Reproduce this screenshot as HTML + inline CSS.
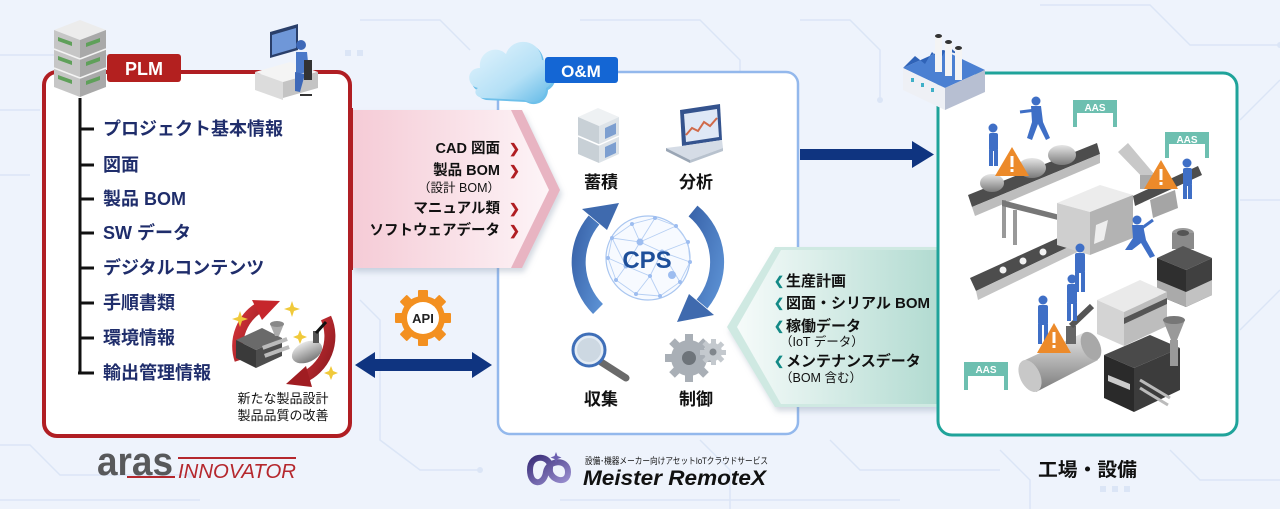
<!DOCTYPE html>
<html><head><meta charset="utf-8">
<style>
html,body{margin:0;padding:0;background:#eef3fc;}
svg{display:block;}
text{font-family:"Liberation Sans","Noto Sans CJK JP",sans-serif;}
</style></head>
<body>
<svg width="1280" height="512" viewBox="0 0 1280 512" xmlns="http://www.w3.org/2000/svg">
<defs>
<linearGradient id="pinkG" x1="0" x2="1" y1="0" y2="0"><stop offset="0" stop-color="#f5cbd6"/><stop offset="1" stop-color="#fdf4f7"/></linearGradient>
<linearGradient id="greenG" x1="0" x2="1" y1="0" y2="0"><stop offset="0" stop-color="#f6fbfa"/><stop offset="1" stop-color="#b2dbd1"/></linearGradient>
<linearGradient id="arcG" x1="0" x2="1" y1="0" y2="1"><stop offset="0" stop-color="#3b66ac"/><stop offset="1" stop-color="#5a8fd2"/></linearGradient>
<linearGradient id="cloudG" x1="0" x2="1" y1="0" y2="1"><stop offset="0" stop-color="#e6f5fd"/><stop offset="0.6" stop-color="#b4e0f6"/><stop offset="1" stop-color="#5db7e6"/></linearGradient>
<linearGradient id="tankG" x1="0" x2="0" y1="0" y2="1"><stop offset="0" stop-color="#e6e6e6"/><stop offset="0.5" stop-color="#b0b0b0"/><stop offset="1" stop-color="#7a7a7a"/></linearGradient>
<linearGradient id="redG" x1="0" x2="1" y1="0" y2="1"><stop offset="0" stop-color="#d8343a"/><stop offset="1" stop-color="#8c1a1f"/></linearGradient>
<linearGradient id="meiG" x1="0" x2="1" y1="0" y2="1"><stop offset="0" stop-color="#3b2f7a"/><stop offset="1" stop-color="#9a8fd0"/></linearGradient>
<filter id="sh" x="-10%" y="-10%" width="130%" height="140%"><feDropShadow dx="2" dy="4" stdDeviation="3" flood-color="#8090a8" flood-opacity="0.35"/></filter>
</defs>

<!-- background -->
<rect width="1280" height="512" fill="#eef3fc"/>
<g stroke="#dbe5f6" stroke-width="1.5" fill="none">
<polyline points="0,55 150,55 185,90 340,90"/>
<polyline points="0,110 40,110"/>
<polyline points="0,175 30,175"/>
<polyline points="0,445 30,445 60,475 190,475"/>
<polyline points="0,500 200,500"/>
<polyline points="360,20 440,20 470,50"/>
<polyline points="360,300 380,320 380,440 420,470 480,470"/>
<polyline points="580,20 700,20 740,60 740,80"/>
<polyline points="800,20 850,20 880,50 880,100"/>
<polyline points="830,440 860,470 1000,470"/>
<polyline points="560,500 900,500"/>
<polyline points="1040,5 1150,5 1190,45 1280,45"/>
<polyline points="1240,120 1280,80"/>
<polyline points="1240,200 1280,200"/>
<polyline points="1240,330 1280,290"/>
<polyline points="1170,450 1200,480 1280,480"/>
<polyline points="700,440 730,470 730,512"/>
<polyline points="1000,450 1030,480 1030,512"/>
</g>
<g fill="#dbe5f6">
<circle cx="340" cy="90" r="3"/><circle cx="480" cy="470" r="3"/><circle cx="190" cy="475" r="3"/>
<circle cx="1280" cy="45" r="3"/><circle cx="880" cy="100" r="3"/><circle cx="740" cy="80" r="3"/>
<rect x="1100" y="486" width="6" height="6"/><rect x="1112" y="486" width="6" height="6"/><rect x="1124" y="486" width="6" height="6"/>
<rect x="345" y="50" width="6" height="6"/><rect x="357" y="50" width="6" height="6"/>
</g>
<rect x="0" y="509" width="1280" height="3" fill="#ffffff"/>

<!-- ================= PLM BOX ================= -->
<rect x="44" y="72" width="306" height="364" rx="13" fill="#ffffff" stroke="#b01e23" stroke-width="4"/>
<rect x="107" y="54" width="74" height="28" rx="3" fill="#b3201f"/>
<text x="144" y="75" font-size="18" font-weight="bold" fill="#fff" text-anchor="middle">PLM</text>

<!-- server stack -->
<g>
<polygon points="54,30 80,20 106,30 80,40" fill="#ececec"/>
<polygon points="54,30 80,40 80,97 54,87" fill="#c6c6c6"/>
<polygon points="80,40 106,30 106,87 80,97" fill="#a9a9a9"/>
<line x1="54" y1="49" x2="80" y2="59" stroke="#f4f4f4" stroke-width="1.5"/>
<line x1="80" y1="59" x2="106" y2="49" stroke="#f4f4f4" stroke-width="1.5"/>
<line x1="54" y1="68" x2="80" y2="78" stroke="#f4f4f4" stroke-width="1.5"/>
<line x1="80" y1="78" x2="106" y2="68" stroke="#f4f4f4" stroke-width="1.5"/>
<polygon points="58,37 72,42 72,46 58,41" fill="#5fa05a"/>
<polygon points="86,43 100,38 100,42 86,47" fill="#5fa05a"/>
<polygon points="58,56 72,61 72,65 58,60" fill="#5fa05a"/>
<polygon points="86,62 100,57 100,61 86,66" fill="#5fa05a"/>
<polygon points="58,75 72,80 72,84 58,79" fill="#5fa05a"/>
<polygon points="86,81 100,76 100,80 86,85" fill="#5fa05a"/>
</g>
<!-- person at desk -->
<g>
<polygon points="270,32 298,24 298,50 270,58" fill="#2a3f6a"/>
<polygon points="272,35 296,28 296,48 272,55" fill="#6f97d8"/>
<polygon points="255,72 290,62 318,72 283,82" fill="#f4f4f4"/>
<polygon points="255,72 283,82 283,100 255,90" fill="#dcdcdc"/>
<polygon points="283,82 318,72 318,88 283,98" fill="#c4c4c4"/>
<circle cx="301" cy="45" r="5" fill="#3d68b8"/>
<path d="M296 52 L307 52 L309 72 L296 74 Z" fill="#4a78c8"/>
<path d="M295 72 L305 74 L300 92 L295 91 Z" fill="#3d68b8"/>
<rect x="304" y="60" width="8" height="20" fill="#333"/>
<line x1="300" y1="95" x2="312" y2="95" stroke="#333" stroke-width="2"/>
</g>

<!-- list -->
<g stroke="#111" stroke-width="3" fill="none">
<line x1="80" y1="98" x2="80" y2="374"/>
<line x1="80" y1="129" x2="94" y2="129"/>
<line x1="80" y1="165" x2="94" y2="165"/>
<line x1="80" y1="199" x2="94" y2="199"/>
<line x1="80" y1="233" x2="94" y2="233"/>
<line x1="80" y1="268" x2="94" y2="268"/>
<line x1="80" y1="303" x2="94" y2="303"/>
<line x1="80" y1="338" x2="94" y2="338"/>
<line x1="78" y1="373" x2="94" y2="373"/>
</g>
<g font-size="18" font-weight="bold" fill="#1f2d6b">
<text x="103" y="135">プロジェクト基本情報</text>
<text x="103" y="171">図面</text>
<text x="103" y="205">製品 BOM</text>
<text x="103" y="239">SW データ</text>
<text x="103" y="274">デジタルコンテンツ</text>
<text x="103" y="309">手順書類</text>
<text x="103" y="344">環境情報</text>
<text x="103" y="379">輸出管理情報</text>
</g>

<!-- improvement icon -->
<g>
<path d="M240 360 A45 45 0 0 1 262 306" stroke="url(#redG)" stroke-width="11" fill="none"/>
<polygon points="252,300 280,301 262,320" fill="#c6262c"/>
<path d="M326 318 A45 45 0 0 1 302 378" stroke="url(#redG)" stroke-width="11" fill="none"/>
<polygon points="312,387 286,384 306,366" fill="#a01d22"/>
<polygon points="236,340 262,328 282,338 256,350" fill="#6a6a6a"/>
<polygon points="236,340 256,350 256,368 236,358" fill="#3a3a3a"/>
<polygon points="256,350 282,338 282,356 256,368" fill="#4e4e4e"/>
<rect x="262" y="346" width="26" height="4" fill="#bbb" transform="rotate(-20 262 346)"/>
<rect x="264" y="354" width="26" height="4" fill="#bbb" transform="rotate(-20 264 354)"/>
<polygon points="270,324 284,324 279,336 275,336" fill="#aaa"/>
<ellipse cx="277" cy="324" rx="7" ry="3" fill="#888"/>
<ellipse cx="307" cy="352" rx="16" ry="10" fill="url(#tankG)" transform="rotate(-25 307 352)"/>
<rect x="313" y="331" width="6" height="12" fill="#555"/>
<line x1="316" y1="333" x2="326" y2="322" stroke="#111" stroke-width="3"/>
<g fill="#f0c93a">
<path d="M240 311 l2 6 6 2 -6 2 -2 6 -2 -6 -6 -2 6 -2z"/>
<path d="M292 301 l2 6 6 2 -6 2 -2 6 -2 -6 -6 -2 6 -2z"/>
<path d="M300 330 l2 5 5 2 -5 2 -2 5 -2 -5 -5 -2 5 -2z"/>
<path d="M331 366 l2 5 5 2 -5 2 -2 5 -2 -5 -5 -2 5 -2z"/>
</g>
</g>
<text x="283" y="403" font-size="13" fill="#111" text-anchor="middle">新たな製品設計</text>
<text x="283" y="420" font-size="13" fill="#111" text-anchor="middle">製品品質の改善</text>

<!-- ================= O&M BOX ================= -->
<rect x="498" y="72" width="300" height="362" rx="12" fill="#ffffff" stroke="#93b8ec" stroke-width="2.5"/>
<!-- cloud -->
<g>
<path d="M482 92 C468 90 468 70 482 70 C480 54 498 46 508 56 C514 38 542 40 544 62 C558 62 560 84 548 90 C548 100 537 108 526 102 L486 100 C478 98 478 94 482 92 Z" fill="#6ec0ea"/>
<path d="M478 88 C466 86 466 68 480 68 C478 52 496 44 506 54 C512 36 540 38 542 60 C556 60 558 82 546 88 C546 98 535 106 524 100 L482 98 C474 96 474 90 478 88 Z" fill="url(#cloudG)"/>
</g>
<rect x="545" y="57" width="73" height="26" rx="3" fill="#1466d4"/>
<text x="581" y="77" font-size="17" font-weight="bold" fill="#fff" text-anchor="middle">O&amp;M</text>

<!-- server icon 蓄積 -->
<g>
<polygon points="578,117 598,108 619,117 599,126" fill="#eef1f3"/>
<polygon points="578,117 599,126 599,163 578,154" fill="#c8d0d6"/>
<polygon points="599,126 619,117 619,154 599,163" fill="#dde3e8"/>
<line x1="578" y1="136" x2="599" y2="145" stroke="#fff" stroke-width="1.5"/>
<line x1="599" y1="145" x2="619" y2="136" stroke="#fff" stroke-width="1.5"/>
<polygon points="605,128 616,123 616,134 605,139" fill="#7d9fd0"/>
<polygon points="605,147 616,142 616,153 605,158" fill="#7d9fd0"/>
</g>
<!-- laptop 分析 -->
<g>
<polygon points="680,110 720,104 722,140 682,146" fill="#34538e"/>
<polygon points="684,114 717,109 719,137 686,142" fill="#dfe8f6"/>
<polyline points="686,135 692,128 698,131 704,122 710,126 717,118" stroke="#d06a4a" stroke-width="2" fill="none"/>
<polygon points="666,148 682,146 722,140 723,148 690,160" fill="#d5dce6"/>
<polygon points="666,148 690,160 690,163 666,151" fill="#9aa6b5"/>
<polygon points="690,160 723,148 723,151 690,163" fill="#b8c2ce"/>
</g>
<g font-size="17" font-weight="bold" fill="#111" text-anchor="middle">
<text x="601" y="188">蓄積</text>
<text x="696" y="188">分析</text>
<text x="601" y="405">収集</text>
<text x="696" y="405">制御</text>
</g>

<!-- CPS -->
<g>
<circle cx="648" cy="258" r="42" fill="#f7faff" stroke="#a9c6f0" stroke-width="1.2"/>
<g stroke="#b6cff3" stroke-width="0.9" fill="none">
<path d="M612 238 L632 224 L655 218 L676 226 L688 242 L690 262 L680 282 L660 296 L636 294 L616 280 L608 258 Z"/>
<path d="M612 238 L640 242 L655 218 M640 242 L676 226 M640 242 L662 252 L688 242 M662 252 L690 262 M662 252 L680 282 M662 252 L650 276 L660 296 M650 276 L636 294 M650 276 L626 266 L616 280 M626 266 L608 258 M626 266 L640 242 M626 266 L612 238 M632 224 L640 242"/>
</g>
<g fill="#9dbdf0">
<circle cx="612" cy="238" r="2"/><circle cx="632" cy="224" r="2"/><circle cx="655" cy="218" r="2"/><circle cx="676" cy="226" r="2"/><circle cx="688" cy="242" r="2"/><circle cx="690" cy="262" r="2"/><circle cx="680" cy="282" r="2"/><circle cx="660" cy="296" r="2"/><circle cx="636" cy="294" r="2"/><circle cx="616" cy="280" r="2"/><circle cx="608" cy="258" r="2"/><circle cx="640" cy="242" r="3.5"/><circle cx="662" cy="252" r="2.5"/><circle cx="650" cy="276" r="2"/><circle cx="626" cy="266" r="2.5"/><circle cx="672" cy="275" r="4"/>
</g>
<text x="647" y="268" font-size="24" font-weight="bold" fill="#1e4f9a" text-anchor="middle">CPS</text>
<path d="M598 309 A66 66 0 0 1 594 220" stroke="url(#arcG)" stroke-width="14" fill="none"/>
<polygon points="582,209 607,230 619,203" fill="#3f6aae"/>
<path d="M693 211 A66 66 0 0 1 702 304" stroke="url(#arcG)" stroke-width="14" fill="none"/>
<polygon points="714,315 689,294 677,322" fill="#3f6aae"/>
</g>

<!-- magnifier -->
<g>
<line x1="601" y1="362" x2="626" y2="378" stroke="#6a6a6a" stroke-width="7" stroke-linecap="round"/>
<circle cx="589" cy="350" r="16" fill="#e4ecf4" stroke="#3f6fb8" stroke-width="3"/>
<circle cx="589" cy="350" r="12" fill="#cdd8e2"/>
</g>
<!-- gears -->
<g>
<g fill="#a9afb6">
<circle cx="689" cy="358" r="18"/>
<rect x="685" y="334" width="8" height="48"/>
<rect x="665" y="354" width="48" height="8"/>
<rect x="685" y="334" width="8" height="48" transform="rotate(45 689 358)"/>
<rect x="685" y="334" width="8" height="48" transform="rotate(-45 689 358)"/>
</g>
<circle cx="689" cy="358" r="7" fill="#6e747a"/>
<g fill="#c4c9ce">
<circle cx="713" cy="352" r="9"/>
<rect x="711" y="339" width="5" height="26"/>
<rect x="700" y="350" width="26" height="5"/>
<rect x="711" y="339" width="5" height="26" transform="rotate(45 713 352)"/>
<rect x="711" y="339" width="5" height="26" transform="rotate(-45 713 352)"/>
</g>
<circle cx="713" cy="352" r="3.5" fill="#80868c"/>
</g>

<!-- ================= PINK BAND ================= -->
<g filter="url(#sh)">
<polygon points="352,110 522,110 560,190 522,268 352,268" fill="#e8b4c2"/>
<polygon points="352,110 511,110 549,190 511,268 352,268" fill="url(#pinkG)"/>
</g>
<rect x="350" y="108" width="3" height="162" fill="#b01e23"/>
<g font-size="14.5" font-weight="bold" fill="#111" text-anchor="end">
<text x="500" y="153">CAD 図面</text>
<text x="500" y="175">製品 BOM</text>
<text x="500" y="192" font-size="12.5" font-weight="normal">（設計 BOM）</text>
<text x="500" y="213">マニュアル類</text>
<text x="500" y="235">ソフトウェアデータ</text>
</g>
<g fill="#b01e23" font-size="13" font-weight="bold">
<text x="509" y="153">❯</text>
<text x="509" y="175">❯</text>
<text x="509" y="213">❯</text>
<text x="509" y="235">❯</text>
</g>

<!-- ================= GREEN BAND ================= -->
<g filter="url(#sh)">
<polygon points="937,247 775,247 727,327 775,407 937,407" fill="#cfe9e2"/>
<polygon points="937,250 781,250 737,327 781,404 937,404" fill="url(#greenG)"/>
</g>
<g fill="#138a86" font-size="12" font-weight="bold">
<text x="774" y="285">❮</text>
<text x="774" y="307">❮</text>
<text x="774" y="330">❮</text>
<text x="774" y="365">❮</text>
</g>
<g font-size="15" font-weight="bold" fill="#111">
<text x="786" y="286">生産計画</text>
<text x="786" y="308">図面・シリアル BOM</text>
<text x="786" y="331">稼働データ</text>
<text x="780" y="346" font-size="12.5" font-weight="normal">（IoT データ）</text>
<text x="786" y="366">メンテナンスデータ</text>
<text x="780" y="382" font-size="12.5" font-weight="normal">（BOM 含む）</text>
</g>

<!-- navy arrow right -->
<rect x="800" y="149" width="114" height="11" fill="#0f3480"/>
<polygon points="912,141 934,154.5 912,168" fill="#0f3480"/>

<!-- double arrow & API -->
<rect x="373" y="359" width="100" height="12" fill="#0f3480"/>
<polygon points="355,365 375,352 375,378" fill="#0f3480"/>
<polygon points="492,365 472,352 472,378" fill="#0f3480"/>
<g fill="#f39020">
<circle cx="423" cy="318" r="22"/>
<rect x="418" y="290" width="10" height="56" rx="1"/>
<rect x="395" y="313" width="56" height="10" rx="1"/>
<rect x="418" y="290" width="10" height="56" rx="1" transform="rotate(45 423 318)"/>
<rect x="418" y="290" width="10" height="56" rx="1" transform="rotate(-45 423 318)"/>
</g>
<circle cx="423" cy="318" r="16" fill="#fff"/>
<text x="423" y="323" font-size="13" font-weight="bold" fill="#222" text-anchor="middle">API</text>

<!-- ================= FACTORY BOX ================= -->
<rect x="938" y="73" width="299" height="362" rx="14" fill="#ffffff" stroke="#1fa39a" stroke-width="3"/>
<!-- factory icon -->
<g>
<polygon points="903,68 945,88 985,70 943,50" fill="#4b80d2"/>
<polygon points="903,68 915,56 925,64 932,52 940,60 948,46 958,54 943,50" fill="#2f63b8"/>
<polygon points="903,68 945,88 945,110 903,90" fill="#eef0f5"/>
<polygon points="945,88 985,70 985,92 945,110" fill="#b7bfd2"/>
<rect x="935" y="36" width="7" height="36" fill="#f4f4f4"/><ellipse cx="938.5" cy="36" rx="3.5" ry="2" fill="#333"/>
<rect x="945" y="42" width="7" height="34" fill="#f4f4f4"/><ellipse cx="948.5" cy="42" rx="3.5" ry="2" fill="#333"/>
<rect x="955" y="48" width="7" height="32" fill="#f4f4f4"/><ellipse cx="958.5" cy="48" rx="3.5" ry="2" fill="#333"/>
<rect x="911" y="78" width="3" height="4" fill="#3fb0c8"/><rect x="921" y="83" width="3" height="4" fill="#3fb0c8"/><rect x="931" y="88" width="3" height="4" fill="#3fb0c8"/>
</g>

<!-- AAS tags -->
<g fill="#6dbfb0">
<path d="M1073 100 h44 v27 h-4 v-14 h-36 v14 h-4 z"/>
<path d="M1165 132 h44 v26 h-4 v-14 h-36 v14 h-4 z"/>
<path d="M964 362 h44 v28 h-4 v-14 h-36 v14 h-4 z"/>
</g>
<g font-size="10" font-weight="bold" fill="#fff" text-anchor="middle">
<text x="1095" y="111">AAS</text>
<text x="1187" y="143">AAS</text>
<text x="986" y="373">AAS</text>
</g>

<!-- top conveyor -->
<polygon points="968,195 1097,143 1100,154 972,207" fill="#4d4d4d"/>
<polygon points="972,207 1100,154 1100,163 975,216" fill="#bdbdbd"/>
<ellipse cx="1062" cy="155" rx="14" ry="10" fill="url(#tankG)"/>
<ellipse cx="1032" cy="168" rx="14" ry="10" fill="url(#tankG)"/>
<ellipse cx="992" cy="183" rx="12" ry="9" fill="url(#tankG)"/>
<!-- lower conveyor -->
<polygon points="970,278 1093,222 1098,233 976,291" fill="#4d4d4d"/>
<polygon points="976,291 1098,233 1098,242 978,300" fill="#c4c4c4"/>
<g fill="#f2f2f2"><circle cx="1003" cy="270" r="3.5"/><circle cx="1023" cy="261" r="3.5"/><circle cx="1043" cy="252" r="3.5"/></g>
<!-- gantry -->
<rect x="1002" y="200" width="4" height="38" fill="#999"/><rect x="1013" y="210" width="4" height="35" fill="#999"/>
<polygon points="1002,200 1060,215 1058,220 1002,206" fill="#777"/>
<!-- central machine -->
<polygon points="1057,203 1100,185 1133,195 1090,212" fill="#ececec"/>
<polygon points="1057,203 1090,212 1090,255 1057,245" fill="#cfcfcf"/>
<polygon points="1090,212 1133,195 1133,238 1090,255" fill="#b3b3b3"/>
<polygon points="1096,225 1108,220 1104,240 1094,244" fill="#eee"/>
<!-- right conveyor -->
<polygon points="1133,196 1198,166 1202,175 1135,206" fill="#4d4d4d"/>
<!-- robot arm -->
<polygon points="1118,152 1128,143 1155,175 1148,183" fill="#c8c8c8"/>
<rect x="1140" y="175" width="14" height="14" fill="#aaa"/>
<polygon points="1150,200 1175,190 1178,208 1153,218" fill="#a5a5a5"/>
<!-- right black machine -->
<ellipse cx="1183" cy="233" rx="11" ry="5" fill="#9a9a9a"/>
<rect x="1172" y="233" width="22" height="16" fill="#8a8a8a"/>
<ellipse cx="1183" cy="233" rx="6" ry="3" fill="#555"/>
<polygon points="1157,258 1183,246 1212,258 1186,270" fill="#555"/>
<polygon points="1157,258 1186,270 1186,307 1157,295" fill="#2f2f2f"/>
<polygon points="1186,270 1212,258 1212,295 1186,307" fill="#404040"/>
<polygon points="1157,280 1186,292 1186,307 1157,295" fill="#aaa"/>
<polygon points="1186,292 1212,280 1212,295 1186,307" fill="#c2c2c2"/>
<!-- gray box middle -->
<polygon points="1097,300 1140,280 1167,292 1124,312" fill="#eaeaea"/>
<polygon points="1097,300 1124,312 1124,346 1097,334" fill="#d4d4d4"/>
<polygon points="1124,312 1167,292 1167,326 1124,346" fill="#bdbdbd"/>
<polygon points="1124,318 1167,298 1167,304 1124,324" fill="#555"/>
<!-- tank -->
<polygon points="1025,360 1085,332 1098,360 1036,392" fill="url(#tankG)"/>
<ellipse cx="1030" cy="376" rx="10" ry="17" fill="#c8c8c8" transform="rotate(-25 1030 376)"/>
<ellipse cx="1091" cy="346" rx="9" ry="15" fill="#a8a8a8" transform="rotate(-25 1091 346)"/>
<rect x="1066" y="326" width="10" height="18" fill="#666"/>
<line x1="1071" y1="326" x2="1092" y2="306" stroke="#555" stroke-width="6"/>
<!-- black extruder -->
<polygon points="1104,355 1150,335 1180,348 1134,368" fill="#4a4a4a"/>
<polygon points="1104,355 1134,368 1134,412 1104,398" fill="#2a2a2a"/>
<polygon points="1134,368 1180,348 1180,390 1134,412" fill="#3c3c3c"/>
<polygon points="1108,375 1130,384 1130,390 1108,381" fill="#ccc"/>
<polygon points="1163,320 1185,320 1177,340 1171,340" fill="#999"/>
<ellipse cx="1174" cy="320" rx="11" ry="4" fill="#777"/>
<rect x="1170" y="340" width="8" height="26" fill="#9a9a9a"/>
<line x1="1140" y1="380" x2="1170" y2="398" stroke="#bbb" stroke-width="3"/>
<line x1="1140" y1="388" x2="1168" y2="405" stroke="#bbb" stroke-width="3"/>

<!-- workers -->
<g fill="#3f6fc6">
<circle cx="993" cy="128" r="4.5"/><rect x="989" y="133" width="9" height="18" rx="2"/><rect x="989" y="150" width="4" height="16"/><rect x="994" y="150" width="4" height="16"/>
<circle cx="1036" cy="101" r="4.5"/><path d="M1031 106 L1041 106 L1043 122 L1050 138 L1046 140 L1038 124 L1032 140 L1027 138 L1032 122 Z"/><line x1="1036" y1="110" x2="1020" y2="112" stroke="#3f6fc6" stroke-width="3"/>
<circle cx="1187" cy="163" r="4.5"/><rect x="1183" y="168" width="9" height="18" rx="2"/><rect x="1183" y="185" width="4" height="14"/><rect x="1188" y="185" width="4" height="14"/>
<circle cx="1137" cy="220" r="4.5"/><path d="M1132 225 L1143 225 L1146 240 L1155 256 L1150 258 L1141 243 L1132 250 L1125 250 L1133 238 Z"/><line x1="1142" y1="228" x2="1153" y2="220" stroke="#3f6fc6" stroke-width="3"/>
<circle cx="1080" cy="248" r="4.5"/><rect x="1075" y="253" width="10" height="20" rx="2"/><rect x="1075" y="272" width="4" height="20"/><rect x="1081" y="272" width="4" height="20"/>
<circle cx="1072" cy="279" r="4.5"/><rect x="1067" y="284" width="10" height="20" rx="2"/><rect x="1067" y="303" width="4" height="18"/><rect x="1073" y="303" width="4" height="18"/>
<circle cx="1043" cy="300" r="4.5"/><rect x="1038" y="305" width="10" height="20" rx="2"/><rect x="1038" y="324" width="4" height="20"/><rect x="1044" y="324" width="4" height="20"/>
</g>
<!-- warnings -->
<g>
<polygon points="1012,147 1029,176 995,176" fill="#ec8a2a"/>
<polygon points="1161,160 1178,189 1144,189" fill="#ec8a2a"/>
<polygon points="1054,323 1071,353 1037,353" fill="#ec8a2a"/>
</g>
<g fill="#fff">
<rect x="1010.5" y="156" width="3" height="11"/><rect x="1010.5" y="169" width="3" height="3"/>
<rect x="1159.5" y="169" width="3" height="11"/><rect x="1159.5" y="182" width="3" height="3"/>
<rect x="1052.5" y="332" width="3" height="11"/><rect x="1052.5" y="345" width="3" height="3"/>
</g>

<!-- ================= BOTTOM LABELS ================= -->
<text x="97" y="475" font-size="40" font-weight="bold" fill="#58595b" textLength="76" lengthAdjust="spacingAndGlyphs">aras</text>
<rect x="127" y="476" width="48" height="2" fill="#b5272d"/>
<rect x="178" y="457" width="118" height="2" fill="#b5272d"/>
<text x="178" y="478" font-size="20" font-style="italic" fill="#b5272d" textLength="118" lengthAdjust="spacingAndGlyphs">INNOVATOR</text>

<g>
<path d="M530 470 C530 452 552 456 550 468 C548 480 568 486 568 472 C568 458 548 460 546 472 C544 486 530 486 530 470 Z" fill="none" stroke="url(#meiG)" stroke-width="6"/>
<path d="M556 452 l1.5 4 4 1.5 -4 1.5 -1.5 4 -1.5 -4 -4 -1.5 4 -1.5z" fill="#6b5fb0"/>
</g>
<text x="585" y="464" font-size="9" fill="#111" textLength="183" lengthAdjust="spacingAndGlyphs">設備･機器メーカー向けアセットIoTクラウドサービス</text>
<text x="583" y="485" font-size="21" font-weight="bold" font-style="italic" fill="#111" textLength="183" lengthAdjust="spacingAndGlyphs">Meister RemoteX</text>

<text x="1038" y="476" font-size="19" font-weight="bold" fill="#111" textLength="99" lengthAdjust="spacingAndGlyphs">工場・設備</text>
</svg>
</body></html>
